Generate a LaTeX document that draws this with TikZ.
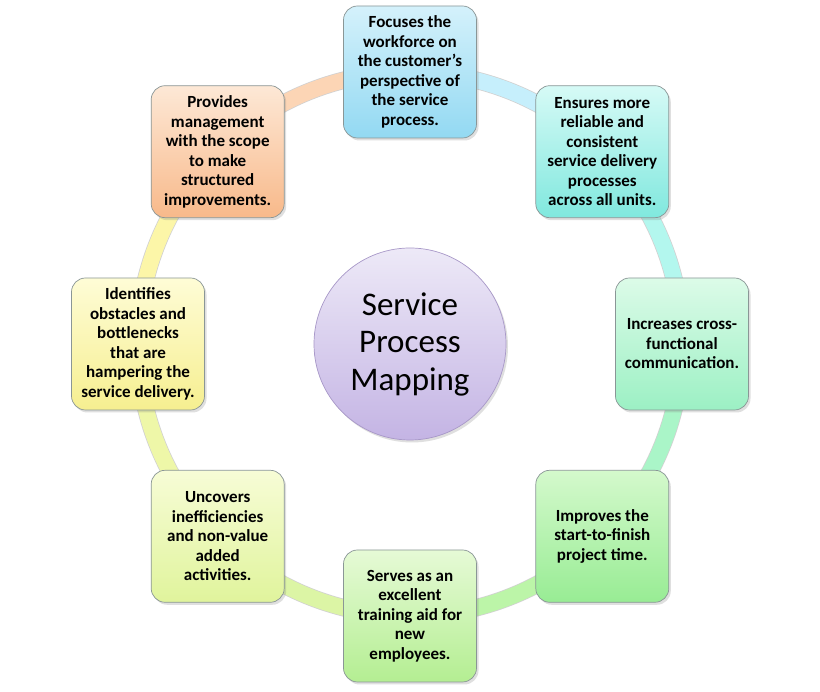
\documentclass[tikz,border=0pt]{standalone}
\usepackage{fontspec}
\setmainfont{Carlito}
\usetikzlibrary{shadows}
\pgfdeclarelayer{background}
\pgfsetlayers{background,main}
\definecolor{boxborder}{HTML}{8A9696}
\definecolor{rOrange}{HTML}{FCD5B5}
\definecolor{rBlue}{HTML}{C6EFFC}
\definecolor{rCyan}{HTML}{B3F7EE}
\definecolor{rMint}{HTML}{AAF5C8}
\definecolor{rGreen}{HTML}{BCF5A8}
\definecolor{rYG}{HTML}{DCF5A5}
\definecolor{rLY}{HTML}{EEF7A8}
\definecolor{rYellow}{HTML}{FCF6A8}
\definecolor{aT}{HTML}{D4F1FB}\definecolor{aB}{HTML}{93D9F2}
\definecolor{bT}{HTML}{D6FAF6}\definecolor{bB}{HTML}{80E8DE}
\definecolor{cT}{HTML}{DCFBE8}\definecolor{cB}{HTML}{9CF0C4}
\definecolor{dT}{HTML}{D4F9CC}\definecolor{dB}{HTML}{98EC94}
\definecolor{eT}{HTML}{E6FAD6}\definecolor{eB}{HTML}{B4EE92}
\definecolor{fT}{HTML}{F7FCD6}\definecolor{fB}{HTML}{E0F49C}
\definecolor{gT}{HTML}{FEFCD6}\definecolor{gB}{HTML}{F6EF90}
\definecolor{hT}{HTML}{FDE8D6}\definecolor{hB}{HTML}{F8B98A}
\definecolor{cirT}{HTML}{EDE9F7}\definecolor{cirB}{HTML}{C4B4E4}
\definecolor{cirD}{HTML}{A898C8}
\begin{document}
\begin{tikzpicture}[x=1pt,y=1pt,
  box/.style={rounded corners=14pt, minimum width=133pt, minimum height=132pt,
    draw=boxborder, line width=0.7pt, align=center, inner sep=2pt,
    font=\fontsize{17}{19.5}\selectfont\bfseries,
    drop shadow={shadow xshift=2pt, shadow yshift=-2.5pt, opacity=0.25}},
  ringseg/.style={line width=16pt, looseness=0.885},
  ringedge/.style={line width=17.5pt, looseness=0.885, draw=black!18}]
\useasboundingbox (0,0) rectangle (820,692);

\node[circle, minimum size=192pt, draw=cirD, line width=0.7pt, top color=cirT, bottom color=cirB,
  align=center, font=\fontsize{33}{37.5}\selectfont,
  drop shadow={shadow xshift=2pt, shadow yshift=-2.5pt, opacity=0.25}] (C) at (410,348)
  {Service\\Process\\Mapping};

\node[box, top color=aT, bottom color=aB] (b1) at (410,620)
  {Focuses the\\workforce on\\the customer’s\\perspective of\\the service\\process.};
\node[box, top color=bT, bottom color=bB] (b2) at (602.3,540.3)
  {Ensures more\\reliable and\\consistent\\service delivery\\processes\\across all units.};
\node[box, top color=cT, bottom color=cB] (b3) at (682,348)
  {Increases cross-\\functional\\communication.};
\node[box, top color=dT, bottom color=dB] (b4) at (602.3,155.7)
  {Improves the\\start-to-finish\\project time.};
\node[box, top color=eT, bottom color=eB] (b5) at (410,76)
  {Serves as an\\excellent\\training aid for\\new\\employees.};
\node[box, top color=fT, bottom color=fB] (b6) at (217.7,155.7)
  {Uncovers\\inefficiencies\\and non-value\\added\\activities.};
\node[box, top color=gT, bottom color=gB] (b7) at (138,348)
  {Identifies\\obstacles and\\bottlenecks\\that are\\hampering the\\service delivery.};
\node[box, top color=hT, bottom color=hB] (b8) at (217.7,540.3)
  {Provides\\management\\with the scope\\to make\\structured\\improvements.};

\begin{pgfonlayer}{background}
\fill[white] (0,0) rectangle (820,692);
\foreach \a/\b in {b8/b1,b1/b2,b2/b3,b3/b4,b4/b5,b5/b6,b6/b7,b7/b8}
  \draw[ringedge] (\a.center) to[bend left=22.5] (\b.center);
\draw[ringseg, rOrange] (b8.center) to[bend left=22.5] (b1.center);
\draw[ringseg, rBlue] (b1.center) to[bend left=22.5] (b2.center);
\draw[ringseg, rCyan] (b2.center) to[bend left=22.5] (b3.center);
\draw[ringseg, rMint] (b3.center) to[bend left=22.5] (b4.center);
\draw[ringseg, rGreen] (b4.center) to[bend left=22.5] (b5.center);
\draw[ringseg, rYG] (b5.center) to[bend left=22.5] (b6.center);
\draw[ringseg, rLY] (b6.center) to[bend left=22.5] (b7.center);
\draw[ringseg, rYellow] (b7.center) to[bend left=22.5] (b8.center);
\end{pgfonlayer}
\end{tikzpicture}
\end{document}
